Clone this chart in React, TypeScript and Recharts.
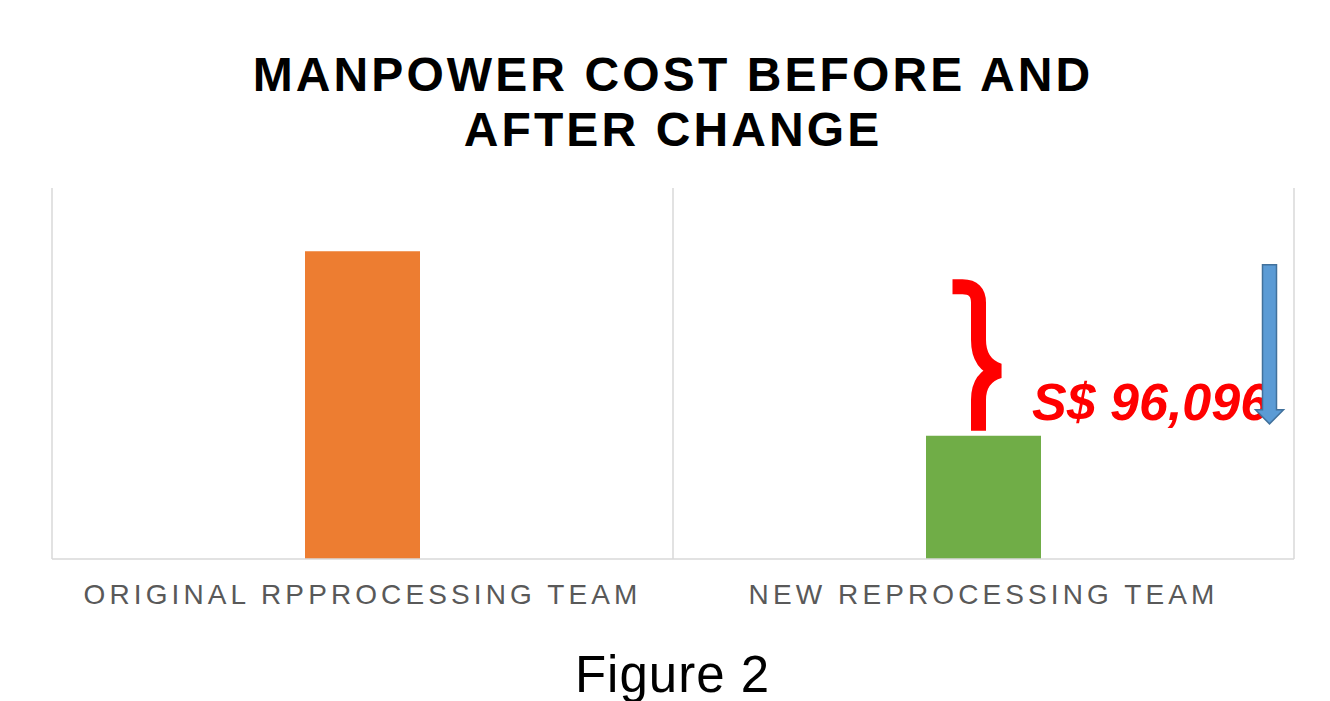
import { BarChart, Bar, XAxis, YAxis, CartesianGrid, Cell, LabelList } from 'recharts';

const categories = ['ORIGINAL RPPROCESSING TEAM', 'NEW REPROCESSING TEAM'];
const costs = [160160, 64064];
const barColors = ['#ED7D31', '#70AD47'];
const yMax = 193000;

const FONT = '"Liberation Sans", Arial, sans-serif';

const chartData = categories.map((team, i) => ({ team, cost: costs[i] }));
const saving = costs[0] - costs[1];

// brace, saving text and down arrow hang off the green (second) bar
const renderAnnotation = (props: any) => {
  if (props.index !== 1) return null;
  const x = Number(props.x);
  const y = Number(props.y);
  const w = Number(props.width);
  const sx = x + w / 2 - 5;
  const ax = x + w / 2 + 286;
  return (
    <g>
      <path
        d={`M ${sx - 26} ${y - 149} L ${sx - 16} ${y - 149} Q ${sx} ${y - 149} ${sx} ${y - 133} L ${sx} ${y - 96} Q ${sx} ${y - 71} ${sx + 21} ${y - 65} Q ${sx} ${y - 59} ${sx} ${y - 36} L ${sx} ${y - 5}`}
        fill="none"
        stroke="#FF0000"
        strokeWidth={15}
        strokeLinejoin="bevel"
      />
      <text
        x={x + 106}
        y={y - 16}
        fill="#FF0000"
        fontSize={52}
        fontWeight="bold"
        fontStyle="italic"
        fontFamily={FONT}
      >
        {`S$ ${saving.toLocaleString('en-US')}`}
      </text>
      <path
        d={`M ${ax - 7} ${y - 171} L ${ax + 7} ${y - 171} L ${ax + 7} ${y - 26} L ${ax + 14} ${y - 26} L ${ax} ${y - 12} L ${ax - 14} ${y - 26} L ${ax - 7} ${y - 26} Z`}
        fill="#5B9BD5"
        stroke="#41719C"
        strokeWidth={1.5}
      />
    </g>
  );
};

export default function App() {
  return (
    <div style={{ position: 'absolute', left: 0, top: 0, width: 1330, height: 701, background: '#fff', overflow: 'hidden' }}>
      {/* Title */}
      <div
        style={{
          position: 'absolute',
          left: 0,
          top: 47,
          width: 1346,
          textAlign: 'center',
          fontFamily: FONT,
          fontWeight: 'bold',
          fontSize: 48,
          lineHeight: '55px',
          letterSpacing: 3.1,
          color: '#000',
        }}
      >
        MANPOWER COST BEFORE AND
        <br />
        AFTER CHANGE
      </div>

      <div style={{ position: 'absolute', left: 0, top: 0 }}>
        <BarChart width={1330} height={701} data={chartData} margin={{ top: 188, right: 36, left: 52, bottom: 112 }}>
          <CartesianGrid
            horizontal={false}
            stroke="#D9D9D9"
            strokeWidth={1.5}
            verticalCoordinatesGenerator={({ offset }: any) => [
              offset.left,
              offset.left + offset.width / 2,
              offset.left + offset.width,
            ]}
          />
          <XAxis
            dataKey="team"
            interval={0}
            axisLine={{ stroke: '#D9D9D9', strokeWidth: 1.5 }}
            tickLine={false}
            tickMargin={19}
            tick={{ fill: '#595959', fontSize: 28, letterSpacing: 4.1, fontFamily: FONT }}
          />
          <YAxis hide domain={[0, yMax]} />
          <Bar dataKey="cost" barSize={115} isAnimationActive={false}>
            {chartData.map((_, i) => (
              <Cell key={i} fill={barColors[i]} />
            ))}
            <LabelList dataKey="cost" content={renderAnnotation} />
          </Bar>
        </BarChart>
      </div>

      {/* caption under the chart */}
      <div
        style={{
          position: 'absolute',
          left: 0,
          top: 649,
          width: 1345,
          textAlign: 'center',
          fontFamily: FONT,
          fontSize: 51,
          lineHeight: 1,
          letterSpacing: 1,
          color: '#000',
        }}
      >
        Figure 2
      </div>
    </div>
  );
}
